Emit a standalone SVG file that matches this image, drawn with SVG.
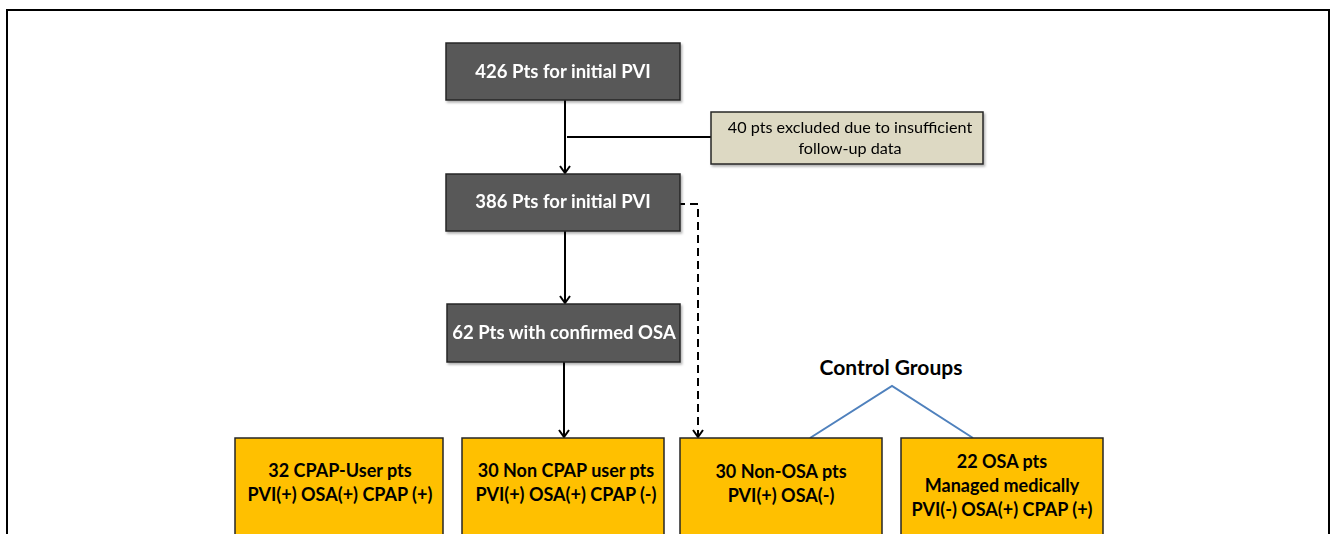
<svg xmlns="http://www.w3.org/2000/svg" width="1334" height="534" viewBox="0 0 1334 534">
<defs>
<style>
.frame{fill:#fff;stroke:#000;stroke-width:2}
.dark{fill:#595959;stroke:#262626;stroke-width:1.5}
.yel{fill:#ffc000;stroke:#262626;stroke-width:1.5}
.tan{fill:#ddd9c3;stroke:#262626;stroke-width:1.5}
.wt{font-family:Lato,"Open Sans",sans-serif;font-weight:bold;font-size:18.5px;fill:#fff;text-anchor:middle}
.bt{font-family:Lato,"Open Sans",sans-serif;font-weight:bold;font-size:18px;fill:#000;text-anchor:middle}
.ct{font-family:Lato,"Open Sans",sans-serif;font-weight:bold;font-size:21px;fill:#000;text-anchor:middle}
.rt{font-family:Lato,"Open Sans",sans-serif;font-size:16.2px;fill:#000;text-anchor:middle}
.ln{fill:none;stroke:#000;stroke-width:2}
.dash{fill:none;stroke:#000;stroke-width:2;stroke-dasharray:8,5}
.blue{fill:none;stroke:#4f81bd;stroke-width:2}
</style>
<marker id="ah" markerWidth="12" markerHeight="12" refX="9" refY="6" orient="auto" markerUnits="userSpaceOnUse" viewBox="0 0 12 12">
<path d="M2,1 L9,6 L2,11" fill="none" stroke="#000" stroke-width="2"/>
</marker>
<filter id="sh" x="-5%" y="-5%" width="115%" height="120%">
<feDropShadow dx="1.5" dy="2" stdDeviation="1.2" flood-color="#000" flood-opacity="0.3"/>
</filter>
</defs>
<rect class="frame" x="7" y="10" width="1322" height="540"/>
<g id="connectors">
<path class="ln" d="M565,100 V173" marker-end="url(#ah)"/>
<path class="ln" d="M567,137 H711"/>
<path class="ln" d="M565,231 V303" marker-end="url(#ah)"/>
<path class="ln" d="M564,362 V437" marker-end="url(#ah)"/>
<path class="dash" d="M508,204 H698 V437" marker-end="url(#ah)"/>
<path class="blue" d="M810,438 L892,386 L973,438"/>
</g>
<g id="n426" filter="url(#sh)"><rect class="dark" x="446" y="43" width="234" height="57"/><text class="wt" x="563" y="78">426 Pts for initial PVI</text></g>
<g id="nexcl" filter="url(#sh)"><rect class="tan" x="711" y="112" width="272" height="52"/><text class="rt" x="850" y="133">40 pts excluded due to insufficient</text><text class="rt" x="850" y="154">follow-up data</text></g>
<g id="n386" filter="url(#sh)"><rect class="dark" x="446" y="174" width="234" height="57"/><text class="wt" x="563" y="208">386 Pts for initial PVI</text></g>
<g id="n62" filter="url(#sh)"><rect class="dark" x="447" y="304" width="233" height="58"/><text class="wt" x="564" y="339">62 Pts with confirmed OSA</text></g>
<g id="ctrl"><text class="ct" x="891" y="375">Control Groups</text></g>
<g id="b1"><rect class="yel" x="235" y="438" width="208" height="120"/><text class="bt" x="340" y="477">32 CPAP-User pts</text><text class="bt" x="340" y="501">PVI(+) OSA(+) CPAP (+)</text></g>
<g id="b2"><rect class="yel" x="462" y="438" width="202" height="120"/><text class="bt" x="566" y="477">30 Non CPAP user pts</text><text class="bt" x="566" y="501">PVI(+) OSA(+) CPAP (-)</text></g>
<g id="b3"><rect class="yel" x="680" y="438" width="202" height="120"/><text class="bt" x="781" y="478">30 Non-OSA pts</text><text class="bt" x="781" y="502">PVI(+) OSA(-)</text></g>
<g id="b4"><rect class="yel" x="901" y="438" width="202" height="120"/><text class="bt" x="1002" y="468">22 OSA pts</text><text class="bt" x="1002" y="492">Managed medically</text><text class="bt" x="1002" y="516">PVI(-) OSA(+) CPAP (+)</text></g>
</svg>
